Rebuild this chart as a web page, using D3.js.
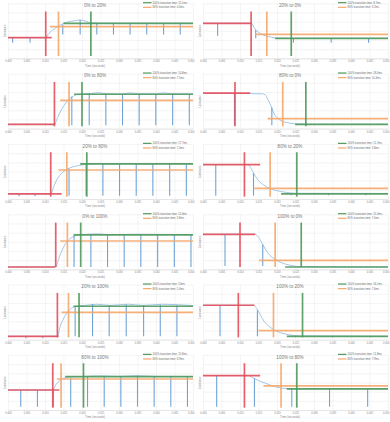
<!DOCTYPE html>
<html>
<head>
<meta charset="utf-8">
<script src="https://cdn.jsdelivr.net/npm/d3@7"></script>
<style>
  body { margin: 0; background: #fff; }
  svg { display: block; font-family: "Liberation Sans", Arial, sans-serif; }
</style>
</head>
<body>
<div id="chart"></div>
<script>
// Section 1: data
// time is in tick units (0..10), luminance in grid units (0..6)
var titles = ["0% to 20%", "20% to 0%", "0% to 80%", "80% to 0%", "20% to 80%", "80% to 20%",
  "0% to 100%", "100% to 0%", "20% to 100%", "100% to 20%", "80% to 100%", "100% to 80%"];
var time100 = ["15.1ms", "8.7ms", "10.8ms", "18.4ms", "17.7ms", "11.7ms",
  "11.6ms", "15.3ms", "10ms", "16.1ms", "15.8ms", "11.8ms"];
var time80 = ["4.4ms", "3.2ms", "7.1ms", "10.4ms", "7.0ms", "5.8ms",
  "5.8ms", "7.0ms", "5.4ms", "7.6ms", "6.9ms", "7.9ms"];
var xTickLabels = ["0.000", "0.005", "0.010", "0.015", "0.020", "0.025",
  "0.030", "0.035", "0.040", "0.045", "0.050"];

// start level line (red): [level, end time], start marker time
var redLine = [[2.25, 2.36], [3.82, 2.64], [0.47, 2.55], [3.87, 2.55], [0.55, 2.9], [3.75, 3.09],
  [0.25, 2.55], [3.82, 2.82], [0.36, 2.73], [3.75, 2.78], [2.18, 2.78], [3.75, 3.09]];
var redT = [2.04, 2.6, 2.51, 1.73, 2.31, 2.24, 2.58, 2.0, 2.67, 1.91, 2.42, 2.24];
// 80% line (orange): [level, start time], marker time
var orangeLine = [[3.45, 2.27], [2.62, 2.82], [3.09, 2.82], [1.09, 3.5], [3.16, 2.73], [1.16, 2.78],
  [3.09, 2.82], [0.98, 3.03], [2.98, 2.9], [0.98, 3.0], [3.38, 2.64], [2.62, 3.27]];
var orangeT = [2.73, 3.45, 3.3, 4.31, 3.18, 3.63, 3.21, 3.9, 3.27, 3.81, 2.87, 4.22];
// 100% line (green): [level, start time], marker time
var greenLine = [[3.82, 3.0], [2.18, 3.9], [3.75, 3.57], [0.47, 4.98], [3.82, 3.9], [0.55, 4.22],
  [3.75, 3.54], [0.25, 4.44], [3.64, 3.54], [0.36, 4.53], [3.64, 3.09], [2.29, 4.53]];
var greenT = [4.48, 4.77, 4.0, 5.56, 4.26, 5.07, 3.93, 5.31, 3.84, 5.38, 4.08, 5.07];

// measured luminance, [time, level]
var curves = [
  [[0, 2.25], [2.04, 2.25], [2.2, 2.7], [2.5, 3.2], [2.8, 3.6], [3.2, 3.95], [3.6, 4.1], [3.9, 4.18], [4.2, 4.05], [4.5, 3.85], [5, 3.82], [10, 3.82]],
  [[0, 3.82], [2.6, 3.82], [2.75, 3.4], [2.9, 3.0], [3.1, 2.7], [3.4, 2.45], [3.7, 2.3], [4.0, 2.2], [4.5, 2.18], [10, 2.18]],
  [[0, 0.47], [2.51, 0.47], [2.7, 1.3], [2.9, 2.1], [3.1, 2.75], [3.3, 3.2], [3.5, 3.5], [3.7, 3.7], [4.0, 3.78], [4.5, 3.82], [4.9, 3.92], [5.3, 3.8], [6.2, 3.78], [6.6, 3.9], [7.0, 3.8], [8.0, 3.78], [8.4, 3.9], [8.8, 3.8], [10, 3.78]],
  [[0, 3.87], [3.2, 3.8], [3.36, 3.7], [3.5, 3.2], [3.65, 2.6], [3.8, 1.8], [4.0, 1.2], [4.3, 0.8], [4.7, 0.6], [5.2, 0.5], [6, 0.47], [10, 0.47]],
  [[0, 0.55], [2.31, 0.55], [2.5, 1.5], [2.7, 2.3], [2.9, 2.8], [3.2, 3.25], [3.6, 3.55], [4.0, 3.72], [4.5, 3.8], [5.0, 3.86], [5.5, 3.78], [6.5, 3.84], [7.5, 3.78], [8.5, 3.84], [10, 3.8]],
  [[0, 3.75], [2.45, 3.75], [2.6, 3.3], [2.8, 2.6], [3.0, 2.0], [3.3, 1.5], [3.6, 1.15], [4.0, 0.9], [4.5, 0.72], [5.0, 0.62], [10, 0.6]],
  [[0, 0.25], [2.58, 0.25], [2.75, 1.2], [2.95, 2.2], [3.15, 2.9], [3.4, 3.4], [3.7, 3.7], [4.0, 3.78], [4.9, 3.86], [5.5, 3.78], [7.0, 3.82], [8.5, 3.8], [10, 3.78]],
  [[0, 3.82], [2.82, 3.82], [3.0, 3.5], [3.2, 2.8], [3.4, 2.1], [3.6, 1.55], [3.9, 1.1], [4.2, 0.75], [4.6, 0.5], [5.2, 0.3], [10, 0.25]],
  [[0, 0.36], [2.67, 0.36], [2.8, 1.3], [3.0, 2.3], [3.2, 2.95], [3.45, 3.45], [3.7, 3.65], [4.0, 3.7], [4.8, 3.86], [5.5, 3.74], [6.5, 3.86], [7.3, 3.74], [8.3, 3.86], [10, 3.72]],
  [[0, 3.75], [2.73, 3.75], [2.9, 3.4], [3.1, 2.7], [3.3, 2.0], [3.55, 1.5], [3.8, 1.1], [4.2, 0.75], [4.6, 0.55], [5.2, 0.4], [10, 0.36]],
  [[0, 2.18], [2.42, 2.18], [2.6, 2.8], [2.8, 3.2], [3.0, 3.45], [3.3, 3.6], [4.0, 3.65], [5.0, 3.72], [6.0, 3.66], [7.0, 3.74], [8.0, 3.66], [10, 3.65]],
  [[0, 3.75], [2.45, 3.75], [2.7, 3.5], [3.0, 3.2], [3.4, 2.9], [3.8, 2.6], [4.2, 2.4], [4.6, 2.3], [5.0, 2.29], [10, 2.29]]
];

// flicker dips, [time, from level, to level]
var spikes = [
  [[0.25, 2.25, 1.7], [1.19, 2.25, 1.7], [2.96, 3.7, 2.6], [3.9, 4.18, 2.6], [4.8, 3.82, 2.6], [5.7, 3.82, 2.6], [6.6, 3.82, 2.6], [7.5, 3.82, 2.6], [8.41, 3.82, 2.6], [9.31, 3.82, 2.6]],
  [[0.79, 3.82, 2.45], [2.85, 3.1, 2.18], [4.89, 2.18, 1.7], [6.93, 2.18, 1.7], [8.95, 2.18, 1.7]],
  [[3.45, 3.5, 0.36], [4.39, 3.85, 0.36], [5.29, 3.8, 0.36], [6.19, 3.78, 0.36], [7.09, 3.8, 0.36], [7.99, 3.78, 0.36], [8.9, 3.8, 0.36], [9.8, 3.78, 0.36]],
  [[1.7, 3.85, 0.36], [3.72, 2.3, 0.36]],
  [[0.6, 0.55, 0.3], [1.46, 0.55, 0.3], [3.3, 3.3, 0.36], [4.22, 3.75, 0.36], [5.13, 3.82, 0.36], [6.03, 3.8, 0.36], [6.93, 3.82, 0.36], [7.83, 3.8, 0.36], [8.74, 3.82, 0.36], [9.64, 3.8, 0.36]],
  [[0.69, 3.75, 0.36], [2.73, 2.8, 0.36], [4.77, 0.65, 0.4], [6.79, 0.6, 0.4], [8.81, 0.6, 0.4]],
  [[3.57, 3.68, 0.25], [4.48, 3.8, 0.25], [5.38, 3.78, 0.25], [6.28, 3.8, 0.25], [7.18, 3.82, 0.25], [8.09, 3.8, 0.25], [8.99, 3.8, 0.25], [9.89, 3.78, 0.25]],
  [[1.19, 3.82, 0.36], [3.23, 2.7, 0.36]],
  [[0.97, 0.36, 0.15], [1.88, 0.36, 0.15], [3.63, 3.7, 0.36], [4.57, 3.86, 0.36], [5.47, 3.74, 0.36], [6.39, 3.84, 0.36], [7.33, 3.74, 0.36], [8.23, 3.84, 0.36], [9.13, 3.76, 0.36]],
  [[0.92, 3.75, 0.36], [2.94, 3.2, 0.36], [4.98, 0.4, 0.25], [7.0, 0.36, 0.25], [9.04, 0.36, 0.25]],
  [[0.69, 2.18, 0.36], [1.59, 2.18, 0.36], [2.45, 2.3, 0.36], [3.39, 3.5, 0.36], [4.3, 3.68, 0.36], [5.2, 3.7, 0.36], [6.1, 3.66, 0.36], [7.0, 3.74, 0.36], [7.9, 3.68, 0.36], [8.8, 3.7, 0.36], [9.7, 3.65, 0.36]],
  [[0.74, 3.75, 0.36], [2.78, 3.45, 0.36], [4.8, 2.3, 0.36], [6.84, 2.29, 0.36], [8.9, 2.29, 0.36]]
];

// Section 2: canvas
var svgWidth = 390;
var svgHeight = 422;
var cellW = 195;
var cellH = svgHeight / 6;

var svg = d3.select("#chart")
  .append("svg")
  .attr("width", svgWidth)
  .attr("height", svgHeight);

var xScale = d3.scaleLinear().domain([0, 10]).range([8, 193]);
var yScale = d3.scaleLinear().domain([0, 6]).range([58.3, 3.3]);

var colRed = "#e5505d";
var colOrange = "#f6a86c";
var colGreen = "#4f9a5c";
var colBlue = "#98bfe3";
var colSpike = "#6fa3d6";

var line = d3.line()
  .x(d => xScale(d[0]))
  .y(d => yScale(d[1]))
  .curve(d3.curveMonotoneX);

titles.forEach(function(title, i) {
  var g = svg.append("g")
    .attr("transform", `translate(${(i % 2) * cellW}, ${Math.floor(i / 2) * cellH})`);

  // grid
  g.append("g")
    .attr("transform", `translate(0, ${yScale(0)})`)
    .call(d3.axisBottom(xScale).tickValues(d3.range(11)).tickSize(yScale(6) - yScale(0)).tickFormat(""))
    .call(a => a.select(".domain").remove())
    .call(a => a.selectAll("line").attr("stroke", "#e8e8e8").attr("stroke-width", 0.5));
  g.append("g")
    .attr("transform", `translate(${xScale(0)}, 0)`)
    .call(d3.axisLeft(yScale).tickValues(d3.range(7)).tickSize(xScale(0) - xScale(10)).tickFormat(""))
    .call(a => a.select(".domain").remove())
    .call(a => a.selectAll("line").attr("stroke", "#e8e8e8").attr("stroke-width", 0.5));

  // tick labels
  g.append("g")
    .attr("transform", `translate(0, ${yScale(0)})`)
    .call(d3.axisBottom(xScale).tickValues(d3.range(11)).tickSize(0).tickPadding(2.2).tickFormat(k => xTickLabels[k]))
    .call(a => a.select(".domain").attr("stroke", "#d4d4d4").attr("stroke-width", 0.5))
    .call(a => a.selectAll("text").attr("font-size", 2.6).attr("fill", "#8a8a8a").attr("font-family", "Liberation Sans, Arial, sans-serif"))
    .call(a => a.selectAll("text").filter(k => k === 10).attr("text-anchor", "end").attr("dx", 1));

  // luminance curve and dips
  g.append("path")
    .datum(curves[i])
    .attr("d", line)
    .attr("fill", "none")
    .attr("stroke", colBlue)
    .attr("stroke-width", 0.9);
  g.selectAll(".spike")
    .data(spikes[i])
    .enter()
    .append("line")
    .attr("x1", d => xScale(d[0]))
    .attr("x2", d => xScale(d[0]))
    .attr("y1", d => yScale(d[1]))
    .attr("y2", d => yScale(d[2]))
    .attr("stroke", colSpike)
    .attr("stroke-width", 1.1);

  // markers
  var markTop = yScale(5.1);
  var markBot = yScale(0.25);
  function hLine(x1, x2, lv, c) {
    g.append("line")
      .attr("x1", xScale(x1)).attr("x2", xScale(x2))
      .attr("y1", yScale(lv)).attr("y2", yScale(lv))
      .attr("stroke", c).attr("stroke-width", 1.7).attr("opacity", 0.9);
  }
  function vLine(t, c) {
    g.append("line")
      .attr("x1", xScale(t)).attr("x2", xScale(t))
      .attr("y1", markTop).attr("y2", markBot)
      .attr("stroke", c).attr("stroke-width", 1.7).attr("opacity", 0.9);
  }
  hLine(0, redLine[i][1], redLine[i][0], colRed);
  vLine(redT[i], colRed);
  hLine(orangeLine[i][1], 10, orangeLine[i][0], colOrange);
  vLine(orangeT[i], colOrange);
  hLine(greenLine[i][1], 10, greenLine[i][0], colGreen);
  vLine(greenT[i], colGreen);

  // title and axis titles
  g.append("text")
    .attr("x", 95).attr("y", 7)
    .attr("text-anchor", "middle")
    .attr("font-size", 4.6)
    .attr("fill", "#7a7a7a")
    .text(title);
  g.append("text")
    .attr("x", 95).attr("y", 66.5)
    .attr("text-anchor", "middle")
    .attr("font-size", 2.9)
    .attr("fill", "#8a8a8a")
    .text("Time (seconds)");
  g.append("text")
    .attr("transform", "translate(6.4, 31) rotate(-90)")
    .attr("text-anchor", "middle")
    .attr("font-size", 2.6)
    .attr("fill", "#8a8a8a")
    .text("Luminance");

  // legend
  var leg = [[colGreen, "100% transition time: " + time100[i]], [colOrange, "80% transition time: " + time80[i]]];
  leg.forEach(function(l, k) {
    var ly = 2.7 + k * 4.6;
    g.append("line")
      .attr("x1", 143).attr("x2", 151.5)
      .attr("y1", ly).attr("y2", ly)
      .attr("stroke", l[0]).attr("stroke-width", 1.2);
    g.append("text")
      .attr("x", 152.5).attr("y", ly + 1)
      .attr("font-size", 2.7)
      .attr("fill", "#6a6a6a")
      .text(l[1]);
  });
});
</script>
</body>
</html>
